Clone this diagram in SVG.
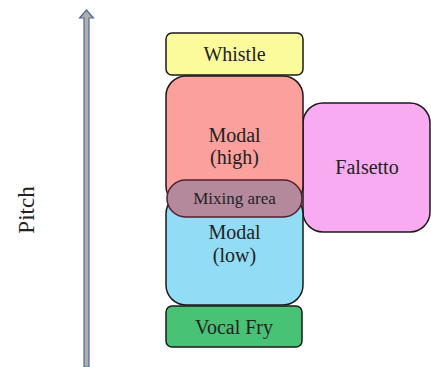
<svg xmlns="http://www.w3.org/2000/svg" width="431" height="367" viewBox="0 0 431 367">
  <style>
    .box { stroke: #1a1a1a; stroke-width: 1.5; }
    .lbl { font-family: "Liberation Serif", "Times New Roman", serif; font-size: 20px; fill: #222; text-anchor: middle; }
    .small { font-size: 17px; }
  </style>
  <rect width="431" height="367" fill="#ffffff"/>

  <!-- pitch axis -->
  <g id="axis">
    <path d="M84,367 L84,18 L79.5,18 L86.5,10 L93.5,18 L89,18 L89,367 Z" fill="#b5aea6" stroke="#4a6a9a" stroke-width="1.2"/>
    <text class="lbl" transform="translate(27,210) rotate(-90)" dy="7" style="font-size:23px">Pitch</text>
  </g>

  <g id="falsetto">
    <rect class="box" x="303" y="103" width="127" height="129" rx="20" fill="#f9abf2"/>
    <text class="lbl" x="367" y="174">Falsetto</text>
  </g>

  <g id="modal-high">
    <rect class="box" x="166" y="76" width="137" height="130" rx="20" fill="#fba09c"/>
    <text class="lbl" x="234.5" y="142">Modal</text>
    <text class="lbl" x="234.5" y="164">(high)</text>
  </g>

  <g id="modal-low">
    <rect class="box" x="166" y="194" width="137" height="111" rx="20" fill="#93dcf6"/>
    <text class="lbl" x="234.5" y="239">Modal</text>
    <text class="lbl" x="234.5" y="262">(low)</text>
  </g>

  <g id="mixing-area">
    <rect x="167" y="180" width="135" height="37" rx="18.5" fill="#b5899c" stroke="#5a1c2c" stroke-width="1.5"/>
    <text class="lbl small" x="234.5" y="204">Mixing area</text>
  </g>

  <g id="whistle">
    <rect class="box" x="166" y="33" width="137" height="42" rx="6" fill="#fbfb9c"/>
    <text class="lbl" x="234.5" y="61">Whistle</text>
  </g>

  <g id="vocal-fry">
    <rect class="box" x="166" y="306" width="136" height="41" rx="6" fill="#48c275"/>
    <text class="lbl" x="234" y="334">Vocal Fry</text>
  </g>

  <g id="connectors"></g>
</svg>
